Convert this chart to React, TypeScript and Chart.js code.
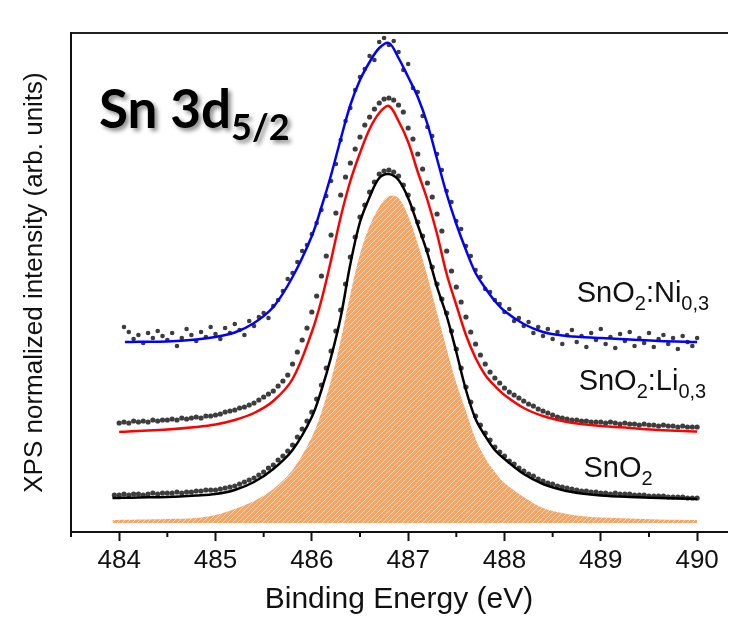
import React, { useEffect, useRef } from 'react';
import { Chart, registerables } from 'chart.js';

Chart.register(...registerables);

const FONT = "'Liberation Sans', Arial, sans-serif";
const TITLE_FONT = "Lato, 'Open Sans', sans-serif";

// Fit curves (binding energy, eV) and heights (arb. units)
const fitEnergies = [483.93, 484.0, 484.06, 484.2, 484.5, 484.8, 485.0, 485.2, 485.4, 485.6, 485.8, 486.0, 486.1, 486.2, 486.3, 486.4, 486.5, 486.6, 486.7, 486.8, 486.9, 487.0, 487.1, 487.2, 487.3, 487.4, 487.5, 487.6, 487.7, 487.8, 487.9, 488.0, 488.2, 488.4, 488.6, 488.8, 489.0, 489.3, 489.6, 490.0];
const componentSnO2 = [12, 12.1, 12.2, 12.5, 13, 14, 17, 23, 31, 43, 62, 95, 120, 152, 192, 238, 278, 306, 325, 336, 334, 316, 288, 256, 219, 183, 149, 121, 93, 74, 60, 49, 35, 24, 19, 16, 14.5, 13.5, 12.5, 12];
const fitSnO2 = [34, 34.1, 34.2, 34.5, 35, 36.5, 38, 42, 50, 63, 82, 115, 142, 175, 215, 268, 310, 335, 354, 358, 352, 334, 307, 279, 245, 216, 180, 142, 113, 96, 82, 73, 58, 48, 42, 38.5, 36.5, 35, 34, 33];
const fitLi = [null, 100, 100.3, 101, 102.5, 105, 107.5, 112, 119, 131, 153, 200, 232, 272, 315, 351, 379, 403, 419, 426, 411, 390, 360, 332, 298, 258, 227, 197, 174, 157, 146, 137, 124, 116, 111, 108, 106, 104, 102, 100.5];
const fitNi = [null, null, 190, 190.2, 190.5, 192.5, 195, 199.5, 209, 225, 255, 296, 325, 357, 393, 427, 452, 470, 484, 489, 474, 455, 435, 408, 373, 338, 308, 282, 259, 244, 231, 221, 208, 200, 196.5, 195, 194, 192.5, 191, 190];
const componentBaseline = 9;

// Measured points on a 0.05 eV grid starting at 483.95 eV
const gridStart = 483.95;
const gridStep = 0.05;
const dataSnO2 = [37,
  37, 38, 37, 38, 38, 37, 38, 39, 38, 39, 39, 39, 40, 39, 40, 40, 41, 41, 42, 42,
  42, 43, 44, 45, 46, 48, 50, 52, 54, 57, 60, 64, 67, 72, 76, 81, 87, 95, 103, 111,
  120, 133, 147, 164, 181, 201, 222, 248, 275, 295, 315, 327, 340, 350, 358, 361, 362, 360, 356, 347,
  337, 323, 310, 296, 282, 265, 248, 233, 219, 201, 183, 164, 145, 130, 116, 107, 99, 92, 85, 80,
  76, 71, 68, 64, 61, 58, 56, 53, 51, 49, 48, 46, 45, 44, 43, 42, 41, 41, 40, 40,
  39, 39, 38, 39, 38, 38, 38, 37, 37, 37, 36, 36, 36, 36, 35, 35, 35, 35, 34, 34,
  34];
const dataLi = [null,
  109, 110, 109, 111, 110, 111, 110, 112, 111, 112, 112, 113, 112, 114, 113, 114, 115, 114, 116, 116,
  117, 118, 120, 121, 122, 124, 125, 127, 129, 132, 135, 138, 141, 146, 151, 157, 168, 180, 192, 204,
  220, 236, 256, 276, 297, 319, 337, 355, 369, 383, 395, 407, 415, 423, 429, 433, 434, 432, 427, 420,
  404, 393, 378, 363, 349, 335, 318, 301, 281, 261, 245, 230, 215, 200, 188, 177, 168, 160, 154, 149,
  144, 140, 137, 134, 131, 128, 126, 123, 121, 119, 117, 115, 114, 113, 112, 112, 111, 111, 110, 110,
  110, 109, 110, 109, 108, 109, 108, 108, 107, 108, 107, 107, 106, 107, 106, 106, 105, 106, 105, 105,
  105];
const dataNi = [null, null,
  205, 200, 193, 197, 189, 199, 194, 201, 196, 192, 199, 186, 194, 203, 197, 191, 200, 195, 205,
  198, 193, 204, 199, 208, 202, 197, 211, 206, 215, 219, 214, 226, 232, 241, 253, 259, 270, 281, 287,
  298, 309, 322, 336, 351, 368, 392, 411, 424, 442, 455, 463, 476, 472, 490, 494, 487, 491, 480, 462,
  468, 444, 440, 416, 405, 396, 378, 362, 341, 330, 311, 303, 286, 276, 262, 255, 243, 240, 232, 228,
  220, 223, 211, 214, 206, 210, 199, 205, 196, 203, 193, 200, 188, 197, 202, 190, 196, 185, 199, 192,
  203, 188, 195, 184, 198, 191, 200, 186, 194, 189, 199, 185, 193, 197, 188, 194, 183, 196, 190, 186,
  194];

// Axis
const xMin = 483.5;
const xMax = 490.31;
const yMin = 0;
const yMax = 499;
const xTitle = 'Binding Energy (eV)';
const yTitle = 'XPS normalized intensity (arb. units)';

// Annotations (data coordinates)
const seriesLabels = [
  { parts: [{ t: 'SnO' }, { t: '2', sub: true }, { t: ':Ni' }, { t: '0,3', sub: true }], x: 488.75, y: 230 },
  { parts: [{ t: 'SnO' }, { t: '2', sub: true }, { t: ':Li' }, { t: '0,3', sub: true }], x: 488.77, y: 142 },
  { parts: [{ t: 'SnO' }, { t: '2', sub: true }], x: 488.82, y: 55 },
];
const titleLabel = { parts: [{ t: 'Sn 3d' }, { t: '5/2', sub: true }], x: 483.79, y: 404 };

type Part = { t: string; sub?: boolean };

function drawRich(ctx: CanvasRenderingContext2D, parts: Part[], x: number, y: number, size: number, subSize: number, subShift: number, weight: string, family: string) {
  let cx = x;
  for (const p of parts) {
    const s = p.sub ? subSize : size;
    ctx.font = `${weight} ${s}px ${family}`;
    ctx.fillText(p.t, cx, p.sub ? y + subShift : y);
    cx += ctx.measureText(p.t).width;
  }
}

function pts(xs: number[], ys: (number | null)[]) {
  return xs.map((x, i) => ({ x, y: ys[i] })).filter((p) => p.y !== null && p.y !== undefined) as { x: number; y: number }[];
}

function makeHatch(): CanvasPattern | string {
  const c = document.createElement('canvas');
  const s = 5;
  c.width = s;
  c.height = s;
  const p = c.getContext('2d');
  if (!p) return '#f4a666';
  p.fillStyle = '#f4a666';
  p.fillRect(0, 0, s, s);
  p.strokeStyle = 'rgba(255,255,255,0.55)';
  p.lineWidth = 1;
  p.beginPath();
  p.moveTo(0, s);
  p.lineTo(s, 0);
  p.moveTo(-1, 1);
  p.lineTo(1, -1);
  p.moveTo(s - 1, s + 1);
  p.lineTo(s + 1, s - 1);
  p.stroke();
  return p.createPattern(c, 'repeat') || '#f4a666';
}

const isWhole = (v: number) => Math.abs(v - Math.round(v)) < 1e-6;

const textPlugin = {
  id: 'xpsText',
  afterDraw(chart: any) {
    const ctx: CanvasRenderingContext2D = chart.ctx;
    const xs = chart.scales.x;
    const ys = chart.scales.y;
    const bottom = chart.chartArea.bottom;
    ctx.save();
    // minor ticks
    ctx.strokeStyle = '#111';
    ctx.lineWidth = 2;
    for (const t of xs.ticks) {
      if (!isWhole(t.value)) {
        const px = xs.getPixelForValue(t.value);
        ctx.beginPath();
        ctx.moveTo(px, bottom);
        ctx.lineTo(px, bottom + 5);
        ctx.stroke();
      }
    }
    ctx.textAlign = 'left';
    ctx.textBaseline = 'alphabetic';
    ctx.fillStyle = '#111';
    for (const l of seriesLabels) {
      drawRich(ctx, l.parts, xs.getPixelForValue(l.x), ys.getPixelForValue(l.y), 29, 20, 8, 'normal', FONT);
    }
    ctx.shadowColor = 'rgba(0,0,0,0.45)';
    ctx.shadowBlur = 4;
    ctx.shadowOffsetX = 3;
    ctx.shadowOffsetY = 3;
    ctx.fillStyle = '#000';
    drawRich(ctx, titleLabel.parts, xs.getPixelForValue(titleLabel.x), ys.getPixelForValue(titleLabel.y), 53, 36, 12, 'bold', TITLE_FONT);
    ctx.restore();
  },
};

export default function App() {
  const ref = useRef<HTMLCanvasElement>(null);
  useEffect(() => {
    if (!ref.current) return;
    const hatch = makeHatch();
    const dotStyle = { pointRadius: 2.6, pointBackgroundColor: '#3d3d3d', pointBorderWidth: 0, showLine: false };
    const dotEnergies = Array.from({ length: dataSnO2.length }, (_, i) => +(gridStart + i * gridStep).toFixed(2));
    const fitLine = { type: 'line', borderWidth: 2.5, pointRadius: 0, tension: 0.35, fill: false, order: 1 };
    const chart = new Chart(ref.current, {
      type: 'scatter',
      data: {
        datasets: [
          { ...fitLine, label: 'fit Ni', data: pts(fitEnergies, fitNi), borderColor: '#0000ff' } as any,
          { ...fitLine, label: 'fit Li', data: pts(fitEnergies, fitLi), borderColor: '#ff0000' } as any,
          { ...fitLine, label: 'fit SnO2', data: pts(fitEnergies, fitSnO2), borderColor: '#000000' } as any,
          { label: 'SnO2:Ni', data: pts(dotEnergies, dataNi), ...dotStyle, pointRadius: 2.3, order: 5 } as any,
          { label: 'SnO2:Li', data: pts(dotEnergies, dataLi), ...dotStyle, order: 5 } as any,
          { label: 'SnO2', data: pts(dotEnergies, dataSnO2), ...dotStyle, order: 5 } as any,
          { type: 'line', label: 'component', data: pts(fitEnergies, componentSnO2), borderWidth: 0, borderColor: 'rgba(0,0,0,0)', backgroundColor: hatch, pointRadius: 0, tension: 0.35, fill: { value: componentBaseline }, order: 10 } as any,
        ],
      },
      options: {
        animation: false,
        responsive: false,
        devicePixelRatio: 1,
        layout: { padding: { top: 33, left: 0, right: 0, bottom: 0 } },
        plugins: { legend: { display: false }, tooltip: { enabled: false }, title: { display: false } },
        scales: {
          x: {
            type: 'linear',
            position: 'bottom',
            min: xMin,
            max: xMax,
            afterFit: (s: any) => { s.height = 90; },
            ticks: {
              stepSize: 0.5,
              includeBounds: false,
              autoSkip: false,
              maxRotation: 0,
              padding: 4,
              color: '#111',
              font: { size: 26, family: FONT },
              callback: (v: any) => (isWhole(Number(v)) ? String(Math.round(Number(v))) : ''),
            },
            grid: {
              display: true,
              drawOnChartArea: false,
              drawTicks: true,
              tickLength: 9,
              tickWidth: 2,
              tickColor: (c: any) => (isWhole(c.tick.value) ? '#111' : 'rgba(0,0,0,0)'),
            },
            border: { display: true, color: '#111', width: 2 },
            title: { display: true, text: xTitle, color: '#111', font: { size: 30, family: FONT }, padding: { top: 0, bottom: 4 } },
          },
          xTop: {
            type: 'linear',
            position: 'top',
            min: xMin,
            max: xMax,
            afterFit: (s: any) => { s.height = 0; },
            ticks: { display: false },
            grid: { display: false },
            border: { display: true, color: '#222', width: 2 },
          },
          y: {
            type: 'linear',
            min: yMin,
            max: yMax,
            afterFit: (s: any) => { s.width = 71; },
            ticks: { display: false },
            grid: { display: false },
            border: { display: true, color: '#111', width: 2 },
            title: { display: true, text: yTitle, color: '#111', font: { size: 26, family: FONT }, padding: { top: 19, bottom: 0 } },
          },
        },
      },
      plugins: [textPlugin],
    } as any);
    return () => chart.destroy();
  }, []);
  return (
    <div style={{ position: 'fixed', left: 0, top: 0, width: 731, height: 622, overflow: 'hidden', background: '#fff' }}>
      <canvas ref={ref} width={731} height={622} style={{ display: 'block' }} />
    </div>
  );
}
